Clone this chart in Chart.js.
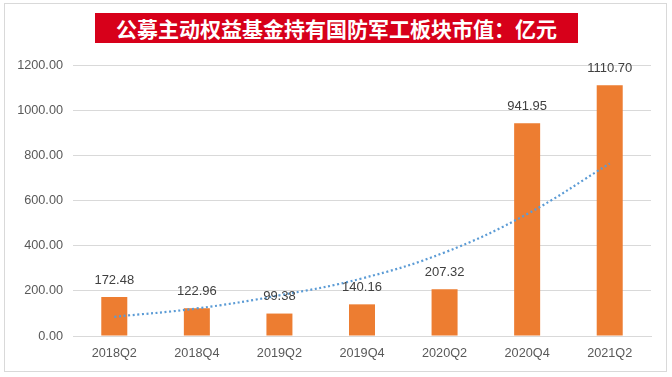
<!DOCTYPE html>
<html>
<head>
<meta charset="utf-8">
<script src="https://cdn.jsdelivr.net/npm/chart.js@4.4.1/dist/chart.umd.min.js"></script>
<style>
  html, body { margin: 0; padding: 0; background: #fff; }
  #wrap { position: relative; width: 672px; height: 377px; }
  #frame { position: absolute; left: 4px; top: 3px; width: 663px; height: 369px; border: 1px solid #d9d9d9; box-sizing: border-box; }
  #title {
    position: absolute; left: 95px; top: 13px; width: 483px; height: 30px;
    background: #d7001a; color: #fff; font-family: "Noto Sans CJK SC", sans-serif;
    font-weight: bold; font-size: 21px; line-height: 30px; text-align: center; white-space: nowrap;
  }
  canvas { position: absolute; left: 0; top: 0; }
</style>
</head>
<body>
<div id="wrap">
  <div id="frame"></div>
  <canvas id="chart" width="672" height="377"></canvas>
  <div id="title">公募主动权益基金持有国防军工板块市值：亿元</div>
</div>
<script>
// categories and values
const quarters = ['2018Q2', '2018Q4', '2019Q2', '2019Q4', '2020Q2', '2020Q4', '2021Q2'];
const marketValue = [172.48, 122.96, 99.38, 140.16, 207.32, 941.95, 1110.70];
// dotted exponential trend line
const trendValues = [85, 122, 180, 255, 370, 540, 764];
const yTicks = [0, 200, 400, 600, 800, 1000, 1200];

const labelFont = '"Liberation Sans", sans-serif';

// draws the value above each bar
const barLabels = {
    id: 'barLabels',
    afterDatasetsDraw(chart) {
        const ctx = chart.ctx;
        const meta = chart.getDatasetMeta(1);
        ctx.save();
        ctx.font = '13px ' + labelFont;
        ctx.fillStyle = '#404040';
        ctx.textAlign = 'center';
        ctx.textBaseline = 'middle';
        meta.data.forEach((bar, i) => {
            ctx.fillText(marketValue[i].toFixed(2), bar.x, bar.y - 17);
        });
        ctx.restore();
    }
};

new Chart(document.getElementById('chart'), {
    data: {
        labels: quarters,
        datasets: [
            {
                type: 'line',
                data: trendValues,
                borderColor: '#5b9bd5',
                borderWidth: 2.2,
                borderDash: [2, 2.6],
                pointRadius: 0,
                tension: 0.4,
                order: 0
            },
            {
                type: 'bar',
                data: marketValue,
                backgroundColor: '#ed7d31',
                categoryPercentage: 1,
                barPercentage: 0.315,
                order: 1
            }
        ]
    },
    options: {
        responsive: false,
        animation: false,
        layout: { padding: { top: 65, right: 21, left: 0, bottom: 0 } },
        plugins: { legend: { display: false }, tooltip: { enabled: false } },
        scales: {
            x: {
                grid: { display: false, drawTicks: false },
                border: { color: '#d9d9d9' },
                ticks: { color: '#595959', font: { family: labelFont, size: 12.7 }, padding: 10, maxRotation: 0 },
                afterFit: s => { s.height = 41; }
            },
            y: {
                min: 0,
                max: 1200,
                afterBuildTicks: s => { s.ticks = yTicks.map(v => ({ value: v })); },
                grid: { color: '#d9d9d9', drawTicks: false },
                border: { display: false },
                ticks: { color: '#595959', font: { family: labelFont, size: 12.7 }, padding: 10, callback: v => v.toFixed(2) },
                afterFit: s => { s.width = 73; }
            }
        }
    },
    plugins: [barLabels]
});
</script>
</body>
</html>
